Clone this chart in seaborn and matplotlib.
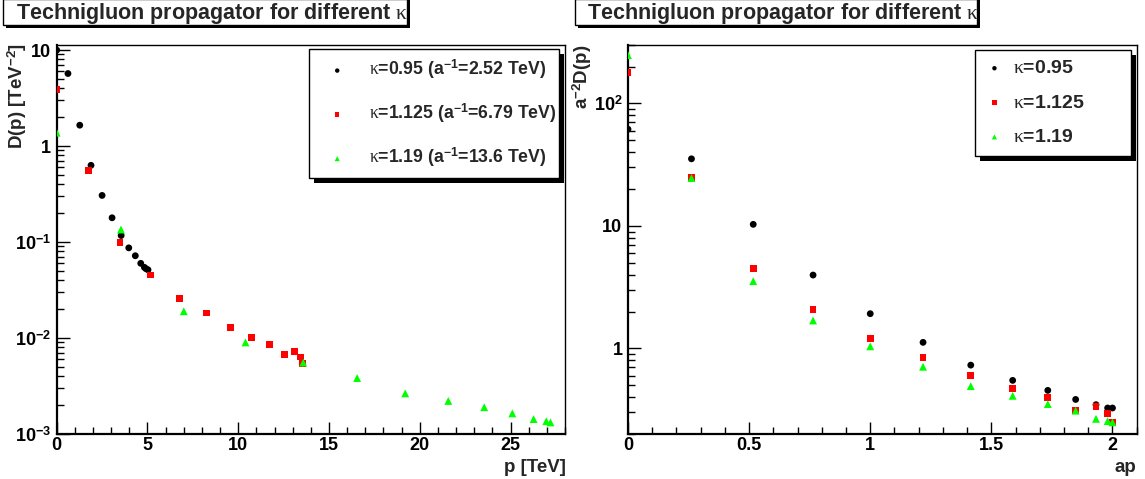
import matplotlib
matplotlib.use("Agg")
import matplotlib.pyplot as plt
import seaborn as sns
import pandas as pd
from matplotlib.patches import Rectangle
from matplotlib.ticker import FixedLocator, FixedFormatter, MultipleLocator, LogLocator, NullFormatter

# ---------------- data ----------------
# left panel: D(p) [TeV^-2] versus p [TeV]
p_k095 = [0.0, 0.62, 1.27, 1.89, 2.50, 3.05, 3.55, 3.97, 4.33, 4.63, 4.83, 4.92, 5.03]
D_k095 = [10.0, 5.7, 1.65, 0.63, 0.306, 0.179, 0.117, 0.087, 0.072, 0.060, 0.0545, 0.0527, 0.0514]
p_k1125 = [0.0, 1.74, 3.49, 5.16, 6.76, 8.25, 9.57, 10.75, 11.74, 12.53, 13.08, 13.45, 13.56]
D_k1125 = [3.9, 0.558, 0.099, 0.0453, 0.026, 0.0182, 0.0129, 0.0102, 0.0085, 0.0068, 0.00726, 0.00634, 0.0054]
p_k119 = [0.0, 3.54, 7.0, 10.4, 13.58, 16.55, 19.2, 21.57, 23.55, 25.1, 26.27, 26.97, 27.2]
D_k119 = [1.38, 0.135, 0.019, 0.009, 0.00555, 0.00383, 0.00265, 0.00221, 0.0019, 0.00164, 0.00143, 0.00136, 0.00132]

# right panel: a^-2 D(p) versus ap
ap = [0.0, 0.262, 0.517, 0.764, 1.0, 1.218, 1.415, 1.588, 1.733, 1.848, 1.932, 1.98, 2.0]
aD_k095 = [61.6, 35.3, 10.3, 3.97, 1.92, 1.12, 0.73, 0.548, 0.454, 0.383, 0.347, 0.326, 0.326]
aD_k1125 = [180.0, 25.0, 4.5, 2.08, 1.2, 0.838, 0.598, 0.471, 0.395, 0.313, 0.336, 0.296, 0.25]
aD_k119 = [248.0, 24.6, 3.54, 1.69, 1.04, 0.708, 0.492, 0.41, 0.351, 0.31, 0.266, 0.255, 0.249]

labels_left = [r"$\mathrm{\kappa}$=0.95 (a$^{\mathbf{-1}}$=2.52 TeV)",
               r"$\mathrm{\kappa}$=1.125 (a$^{\mathbf{-1}}$=6.79 TeV)",
               r"$\mathrm{\kappa}$=1.19 (a$^{\mathbf{-1}}$=13.6 TeV)"]
labels_right = [r"$\mathrm{\kappa}$=0.95", r"$\mathrm{\kappa}$=1.125", r"$\mathrm{\kappa}$=1.19"]

title = r"Technigluon propagator for different $\mathrm{\kappa}$"

left_xticks = [0, 5, 10, 15, 20, 25]
left_xticklabels = ["0", "5", "10", "15", "20", "25"]
left_yticks = [1e-3, 1e-2, 1e-1, 1, 10]
left_yticklabels = [r"$\mathbf{10}^{\mathbf{-3}}$", r"$\mathbf{10}^{\mathbf{-2}}$",
                    r"$\mathbf{10}^{\mathbf{-1}}$", "1", "10"]
right_xticks = [0, 0.5, 1, 1.5, 2]
right_xticklabels = ["0", "0.5", "1", "1.5", "2"]
right_yticks = [1, 10, 100]
right_yticklabels = ["1", "10", r"$\mathbf{10}^{\mathbf{2}}$"]

# ---------------- style ----------------
sns.set_style("ticks")
plt.rcParams.update({
    "font.family": ["Liberation Sans", "DejaVu Sans"],
    "font.weight": "bold",
    "axes.labelweight": "bold",
    "mathtext.fontset": "custom",
    "mathtext.rm": "Liberation Serif:weight=normal",
    "mathtext.it": "Liberation Serif:italic:weight=normal",
    "mathtext.bf": "Liberation Sans:weight=bold",
    "mathtext.sf": "Liberation Sans:weight=bold",
    "axes.unicode_minus": False,
})

W, H = 1145, 479
fig = plt.figure(figsize=(W / 100, H / 100), dpi=100)
fig.patch.set_facecolor("white")

ax1 = fig.add_axes([56.7 / W, 1 - 434 / H, 508.3 / W, 389 / H])
ax2 = fig.add_axes([628 / W, 1 - 434 / H, 508.7 / W, 389 / H])

colors = ["#000000", "#ff0000", "#00ff00"]
markers = ["o", "s", "^"]
sizes = [24, 24, 32]

left_series = [(p_k095, D_k095), (p_k1125, D_k1125), (p_k119, D_k119)]
right_series = [aD_k095, aD_k1125, aD_k119]

for i, (x, y) in enumerate(left_series):
    df = pd.DataFrame({"p": x, "D": y})
    sns.scatterplot(data=df, x="p", y="D", ax=ax1, color=colors[i], marker=markers[i],
                    s=sizes[i], edgecolor="none", linewidth=0, label=labels_left[i], zorder=3 + i)
for i, y in enumerate(right_series):
    df = pd.DataFrame({"ap": ap, "aD": y})
    sns.scatterplot(data=df, x="ap", y="aD", ax=ax2, color=colors[i], marker=markers[i],
                    s=sizes[i], edgecolor="none", linewidth=0, label=labels_right[i], zorder=3 + i)


def style_axes(ax, xlim, ylim, xticks, xticklabels, xminor, yticks, yticklabels):
    ax.set_facecolor("none")
    ax.set_yscale("log")
    ax.set_xlim(*xlim)
    ax.set_ylim(*ylim)
    ax.xaxis.set_major_locator(FixedLocator(xticks))
    ax.xaxis.set_major_formatter(FixedFormatter(xticklabels))
    ax.xaxis.set_minor_locator(MultipleLocator(xminor))
    ax.yaxis.set_major_locator(FixedLocator(yticks))
    ax.yaxis.set_major_formatter(FixedFormatter(yticklabels))
    ax.yaxis.set_minor_locator(LogLocator(base=10, subs=range(2, 10), numticks=50))
    ax.yaxis.set_minor_formatter(NullFormatter())
    ax.tick_params(which="both", direction="in", top=False, right=False, colors="black",
                   labelsize=13, width=1.0)
    ax.tick_params(which="major", length=9)
    ax.tick_params(which="minor", length=5)
    ax.tick_params(axis="y", pad=4)
    ax.tick_params(axis="x", pad=2.5)
    for lab in ax.get_xticklabels() + ax.get_yticklabels():
        lab.set_fontweight("bold")
    for s in ["left", "bottom"]:
        ax.spines[s].set_linewidth(1.6)
        ax.spines[s].set_color("black")
    for s in ["top", "right"]:
        ax.spines[s].set_visible(True)
        ax.spines[s].set_linewidth(1.0)
        ax.spines[s].set_color("black")
    ax.grid(False)


style_axes(ax1, (0, 28), (1e-3, 11.3), left_xticks, left_xticklabels, 1,
           left_yticks, left_yticklabels)
style_axes(ax2, (0, 2.1), (0.2, 300), right_xticks, right_xticklabels, 0.1,
           right_yticks, right_yticklabels)

ax1.set_xlabel("p [TeV]", fontsize=13.5, fontweight="bold", loc="right")
ax1.set_ylabel(r"D(p) [TeV$^{\mathbf{-2}}$]", fontsize=13.5, fontweight="bold", loc="top")
ax2.set_xlabel("ap", fontsize=13.5, fontweight="bold", loc="right")
ax2.set_ylabel(r"a$^{\mathbf{-2}}$D(p)", fontsize=13.5, fontweight="bold", loc="top")
ax1.xaxis.set_label_coords(1.002, -0.063)
ax2.xaxis.set_label_coords(1.0, -0.063)
ax1.yaxis.set_label_coords(-0.054, 1.005)
ax2.yaxis.set_label_coords(-0.066, 1.0)

# legends
leg1 = ax1.legend(loc="upper left", bbox_to_anchor=(309 / W, 1 - 49 / H - 0.01, 250 / W, 0.01),
                  bbox_transform=fig.transFigure, mode="expand", borderaxespad=0,
                  fontsize=12.7, frameon=True, fancybox=False, edgecolor="black",
                  framealpha=1, facecolor="white", markerscale=0.65,
                  handlelength=2.2, handletextpad=0.7, borderpad=0.5, labelspacing=1.17)
leg1.get_frame().set_linewidth(1.0)
leg2 = ax2.legend(loc="upper left", bbox_to_anchor=(975 / W, 1 - 50 / H - 0.01, 156 / W, 0.01),
                  bbox_transform=fig.transFigure, mode="expand", borderaxespad=0,
                  fontsize=14, frameon=True, fancybox=False, edgecolor="black",
                  framealpha=1, facecolor="white", markerscale=0.65,
                  handlelength=1.0, handletextpad=0.45, borderpad=0.5, labelspacing=0.86)
leg2.get_frame().set_linewidth(1.0)

# title boxes (ROOT style pave with shadow)
for (x0, x1, xt) in [(3, 407, 16), (575, 977, 587)]:
    fig.add_artist(Rectangle(((x0 + 3) / W, 1 - 28 / H), (x1 - x0) / W, 28 / H,
                             transform=fig.transFigure, fc="black", ec="none", zorder=1))
    fig.add_artist(Rectangle((x0 / W, 1 - 25 / H), (x1 - x0) / W, 26 / H,
                             transform=fig.transFigure, fc="white", ec="black", lw=1.0, zorder=2))
    fig.text(xt / W, 1 - 19 / H, title, fontsize=15.5, fontweight="bold", ha="left",
             va="baseline", zorder=3)

# legend shadows
fig.canvas.draw()
for leg in (leg1, leg2):
    bb = leg.get_frame().get_window_extent()
    fig.add_artist(Rectangle(((bb.x0 + 5) / W, (bb.y0 - 5) / H), bb.width / W, bb.height / H,
                             transform=fig.transFigure, fc="black", ec="none", zorder=-1))

fig.savefig("out.png", dpi=100, facecolor="white")
